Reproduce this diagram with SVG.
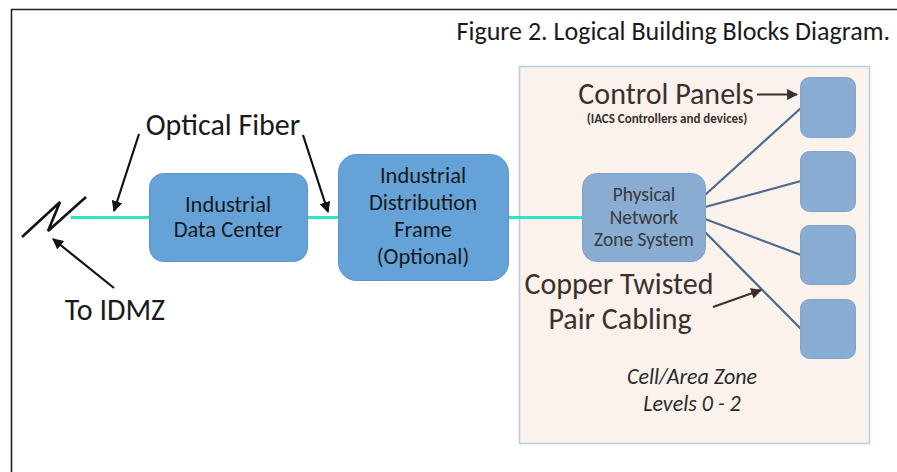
<svg xmlns="http://www.w3.org/2000/svg" width="897" height="472" viewBox="0 0 897 472">
<defs>
<style>
.t{font-family:Carlito,"Open Sans","Liberation Sans",sans-serif;}
.blk{fill:#1a1a1a;}
.nodeA{fill:#64a2d8;stroke:#5a96cc;stroke-width:1;}
.nodeB{fill:#88acd2;stroke:#7fa3cb;stroke-width:1;}
.fiber{stroke:#2ee6c6;stroke-width:3;fill:none;}
.cu{stroke:#4b6b8c;stroke-width:2.2;fill:none;}
.arr{stroke:#111;stroke-width:2.2;fill:none;marker-end:url(#ah);}
.arr2{stroke:#3a3030;stroke-width:2.2;fill:none;marker-end:url(#ah2);}
</style>
<marker id="ah" viewBox="0 0 10 10" refX="9" refY="5" markerWidth="5" markerHeight="5" orient="auto" markerUnits="strokeWidth">
<path d="M0,0 L10,5 L0,10 z" fill="#111"/>
</marker>
<marker id="ah2" viewBox="0 0 10 10" refX="9" refY="5" markerWidth="5" markerHeight="5" orient="auto" markerUnits="strokeWidth">
<path d="M0,0 L10,5 L0,10 z" fill="#3a3030"/>
</marker>
</defs>
<rect x="0" y="0" width="897" height="472" fill="#ffffff"/>
<path d="M11.5,472 L11.5,9.5 L897,9.5" fill="none" stroke="#222" stroke-width="1.6"/>
<text class="t blk" x="890" y="40" font-size="26" text-anchor="end">Figure 2. Logical Building Blocks Diagram.</text>

<g id="cell-zone">
<rect x="519.5" y="66.5" width="350" height="377" fill="#fcf2ec" stroke="#b9cde3" stroke-width="1.6"/>
<text class="t" x="692" y="384" font-size="22" font-style="italic" text-anchor="middle" fill="#2a2a2a">Cell/Area Zone</text>
<text class="t" x="692" y="411" font-size="22" font-style="italic" text-anchor="middle" fill="#2a2a2a">Levels 0 - 2</text>
</g>

<g id="connectors">
<path class="fiber" d="M71,217.5 L150,217.5"/>
<path class="fiber" d="M308,217.5 L339,217.5"/>
<path class="fiber" d="M509,217.5 L583,217.5"/>
<path class="cu" d="M705,195 L801,108"/>
<path class="cu" d="M705,207 L801,181"/>
<path class="cu" d="M705,219 L801,255"/>
<path class="cu" d="M705,232 L801,329"/>
<path d="M22,237 L60,202 L48,231 L86,197" fill="none" stroke="#111" stroke-width="2.6" stroke-linejoin="miter"/>
<path class="arr" d="M139,134 L114,211"/>
<path class="arr" d="M303,135 L328,212"/>
<path class="arr" d="M114,288 L53,239"/>
<path class="arr2" d="M757,94.5 L797,94.5"/>
<path class="arr2" d="M713,307 L761,290"/>
</g>

<g id="labels">
<text class="t blk" x="223" y="135" font-size="30" text-anchor="middle">Optical Fiber</text>
<text class="t blk" x="115" y="320" font-size="30" text-anchor="middle">To IDMZ</text>
<text class="t" x="666" y="104" font-size="30" text-anchor="middle" fill="#3a3030">Control Panels</text>
<text class="t" x="667" y="123" font-size="13" font-weight="bold" text-anchor="middle" fill="#3a3030">(IACS Controllers and devices)</text>
<text class="t" x="619" y="294" font-size="30" text-anchor="middle" fill="#3a3030">Copper Twisted</text>
<text class="t" x="620" y="329" font-size="30" text-anchor="middle" fill="#3a3030">Pair Cabling</text>
</g>

<g id="idc">
<rect class="nodeA" x="149.5" y="173.5" width="158" height="88" rx="14"/>
<text class="t blk" x="228" y="212" font-size="22.5" text-anchor="middle">Industrial</text>
<text class="t blk" x="228" y="237" font-size="22.5" text-anchor="middle">Data Center</text>
</g>

<g id="idf">
<rect class="nodeA" x="338.5" y="154.5" width="170" height="126" rx="18"/>
<text class="t blk" x="423" y="183" font-size="22.5" text-anchor="middle">Industrial</text>
<text class="t blk" x="423" y="210" font-size="22.5" text-anchor="middle">Distribution</text>
<text class="t blk" x="423" y="237" font-size="22.5" text-anchor="middle">Frame</text>
<text class="t blk" x="423" y="264" font-size="22.5" text-anchor="middle">(Optional)</text>
</g>

<g id="pnzs">
<rect class="nodeB" x="582.5" y="173.5" width="123" height="88" rx="14"/>
<text class="t" x="644" y="201" font-size="19.5" text-anchor="middle" fill="#3a3a3a">Physical</text>
<text class="t" x="644" y="224" font-size="19.5" text-anchor="middle" fill="#3a3a3a">Network</text>
<text class="t" x="644" y="246" font-size="19.5" text-anchor="middle" fill="#3a3a3a">Zone System</text>
</g>

<g id="panel1"><rect class="nodeB" x="800.5" y="77.5" width="55" height="60" rx="9"/></g>
<g id="panel2"><rect class="nodeB" x="800.5" y="151.5" width="55" height="60" rx="9"/></g>
<g id="panel3"><rect class="nodeB" x="800.5" y="225.5" width="55" height="59" rx="9"/></g>
<g id="panel4"><rect class="nodeB" x="800.5" y="299.5" width="55" height="59" rx="9"/></g>
</svg>
